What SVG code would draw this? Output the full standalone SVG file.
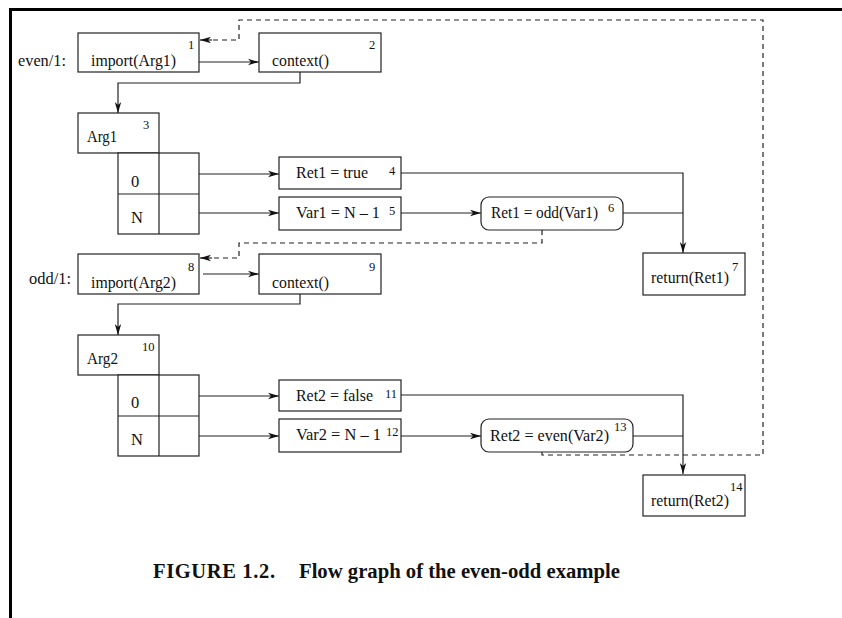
<svg xmlns="http://www.w3.org/2000/svg" width="842" height="618" viewBox="0 0 842 618">
<defs>
<marker id="ah" markerUnits="userSpaceOnUse" markerWidth="12" markerHeight="8" refX="11" refY="4" orient="auto">
<path d="M0,0.8 L11,4 L0,7.2 L3,4 z" fill="#111"/>
</marker>
</defs>
<style>
.bx{fill:#fff;stroke:#222;stroke-width:1.2}
.ln{fill:none;stroke:#222;stroke-width:1.2}
.ar{fill:none;stroke:#222;stroke-width:1.2;marker-end:url(#ah)}
.ds{fill:none;stroke:#222;stroke-width:1.2;stroke-dasharray:5,4}
text{font-family:"Liberation Serif","Times New Roman",serif;font-size:16.5px;fill:#111}
.sup{font-size:12.5px}
.cap{font-size:20.5px;font-weight:bold}
</style>
<rect width="842" height="618" fill="#fff"/>
<path d="M10.5,618 L10.5,9.5 L842,9.5" fill="none" stroke="#000" stroke-width="3"/>
<text x="18" y="66" textLength="48" lengthAdjust="spacingAndGlyphs">even/1:</text>
<text x="29" y="284" textLength="42" lengthAdjust="spacingAndGlyphs">odd/1:</text>
<g id="connectors">
<path class="ar" d="M199,62 L259,62"/>
<path class="ar" d="M300,72 L300,83 L118,83 L118,113"/>
<path class="ar" d="M199,174 L279,174"/>
<path class="ar" d="M199,213 L279,213"/>
<path class="ar" d="M401,213 L481,213"/>
<path class="ar" d="M401,173 L683,173 L683,253"/>
<path class="ln" d="M623,213 L683,213"/>
<path class="ds" d="M542,230 L542,243 L239,243 L239,258 L211,258"/>
<path class="ar" d="M212,258 L200,258"/>
<path class="ds" d="M542,452 L542,455 L763,455 L763,20 L239,20 L239,40 L211,40"/>
<path class="ar" d="M212,40 L200,40"/>
<path class="ar" d="M203,274 L259,274"/>
<path class="ar" d="M300,294 L300,304 L118,304 L118,335"/>
<path class="ar" d="M199,396 L279,396"/>
<path class="ar" d="M199,436 L279,436"/>
<path class="ar" d="M401,436 L481,436"/>
<path class="ar" d="M401,395 L683,395 L683,474"/>
<path class="ln" d="M633,436 L683,436"/>
</g>
<g id="n1"><rect class="bx" x="78" y="33" width="121" height="39"/><text x="91" y="66" textLength="85" lengthAdjust="spacingAndGlyphs">import(Arg1)</text><text class="sup" x="188" y="49">1</text></g>
<g id="n2"><rect class="bx" x="259" y="33" width="122" height="39"/><text x="272" y="66" textLength="57" lengthAdjust="spacingAndGlyphs">context()</text><text class="sup" x="369" y="49">2</text></g>
<g id="n3"><rect class="bx" x="78" y="113" width="81" height="40"/><text x="87" y="142" textLength="30" lengthAdjust="spacingAndGlyphs">Arg1</text><text class="sup" x="143" y="129">3</text>
<rect class="bx" x="118" y="153" width="81" height="81"/><path class="ln" d="M118,194 L199,194 M159,153 L159,234"/>
<text x="131" y="187">0</text><text x="131" y="223">N</text></g>
<g id="n4"><rect class="bx" x="279" y="157" width="122" height="32"/><text x="296" y="178" textLength="72" lengthAdjust="spacingAndGlyphs">Ret1 = true</text><text class="sup" x="389" y="175">4</text></g>
<g id="n5"><rect class="bx" x="279" y="197" width="122" height="33"/><text x="296" y="218" textLength="84" lengthAdjust="spacingAndGlyphs">Var1 = N – 1</text><text class="sup" x="389" y="215">5</text></g>
<g id="n6"><rect class="bx" x="481" y="197" width="142" height="33" rx="8"/><text x="491" y="218" textLength="107" lengthAdjust="spacingAndGlyphs">Ret1 = odd(Var1)</text><text class="sup" x="608" y="212">6</text></g>
<g id="n7"><rect class="bx" x="643" y="253" width="102" height="42"/><text x="651" y="283" textLength="78" lengthAdjust="spacingAndGlyphs">return(Ret1)</text><text class="sup" x="732" y="271">7</text></g>
<g id="n8"><rect class="bx" x="78" y="254" width="121" height="40"/><text x="91" y="288" textLength="85" lengthAdjust="spacingAndGlyphs">import(Arg2)</text><text class="sup" x="188" y="271">8</text></g>
<g id="n9"><rect class="bx" x="259" y="254" width="122" height="40"/><text x="272" y="288" textLength="57" lengthAdjust="spacingAndGlyphs">context()</text><text class="sup" x="369" y="271">9</text></g>
<g id="n10"><rect class="bx" x="78" y="335" width="81" height="40"/><text x="87" y="364" textLength="31" lengthAdjust="spacingAndGlyphs">Arg2</text><text class="sup" x="142" y="351">10</text>
<rect class="bx" x="118" y="375" width="81" height="81"/><path class="ln" d="M118,416 L199,416 M159,375 L159,456"/>
<text x="131" y="408">0</text><text x="131" y="445">N</text></g>
<g id="n11"><rect class="bx" x="279" y="380" width="122" height="31"/><text x="296" y="401" textLength="77" lengthAdjust="spacingAndGlyphs">Ret2 = false</text><text class="sup" x="385" y="398">11</text></g>
<g id="n12"><rect class="bx" x="279" y="419" width="122" height="33"/><text x="296" y="440" textLength="85" lengthAdjust="spacingAndGlyphs">Var2 = N – 1</text><text class="sup" x="386" y="436">12</text></g>
<g id="n13"><rect class="bx" x="481" y="419" width="152" height="33" rx="8"/><text x="490" y="441" textLength="119" lengthAdjust="spacingAndGlyphs">Ret2 = even(Var2)</text><text class="sup" x="614" y="431">13</text></g>
<g id="n14"><rect class="bx" x="643" y="475" width="102" height="41"/><text x="651" y="506" textLength="78" lengthAdjust="spacingAndGlyphs">return(Ret2)</text><text class="sup" x="730" y="491">14</text></g>
<text class="cap" x="153" y="578" textLength="122" lengthAdjust="spacing">FIGURE  1.2.</text>
<text class="cap" x="299" y="578" textLength="321" lengthAdjust="spacingAndGlyphs">Flow graph of the even-odd example</text>
</svg>
